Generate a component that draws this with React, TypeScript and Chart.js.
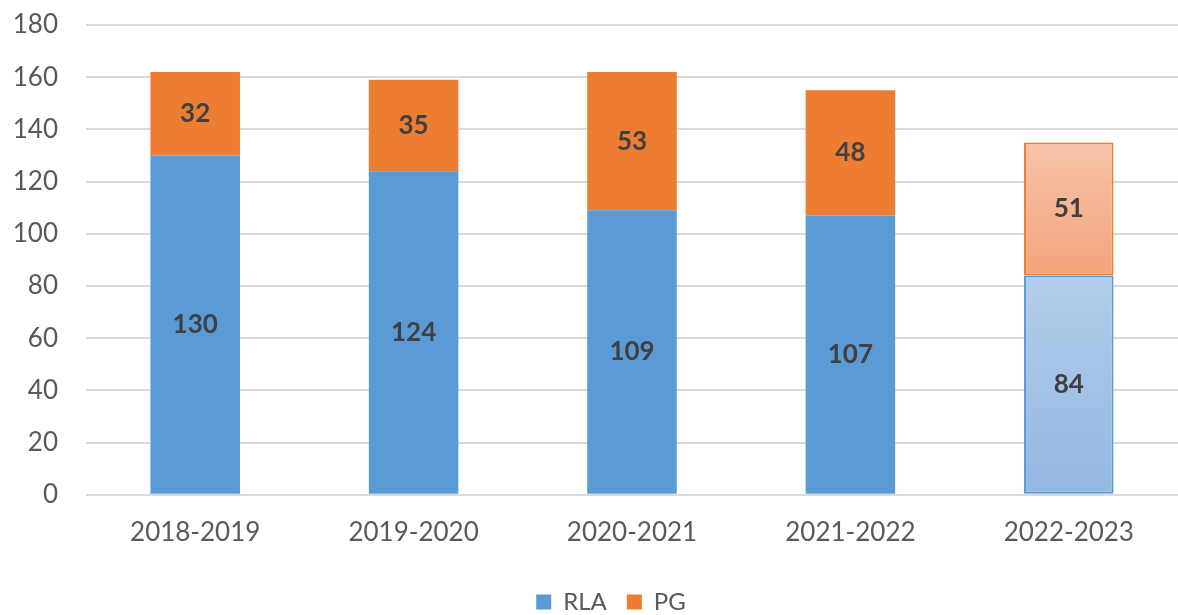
import React, { useEffect, useRef } from "react";
import { Chart, registerables } from "chart.js";

Chart.register(...registerables);

const categories = ["2018-2019", "2019-2020", "2020-2021", "2021-2022", "2022-2023"];
const rlaValues = [130, 124, 109, 107, 84];
const pgValues = [32, 35, 53, 48, 51];
const yTicks = [0, 20, 40, 60, 80, 100, 120, 140, 160, 180];

const FONT = "Lato";
const BLUE = "#5b9bd5";
const ORANGE = "#ed7d31";

const valueLabels = {
  id: "valueLabels",
  afterDatasetsDraw(chart: any) {
    const { ctx } = chart;
    ctx.save();
    ctx.font = `bold 26px ${FONT}`;
    ctx.fillStyle = "#404040";
    ctx.textAlign = "center";
    ctx.textBaseline = "middle";
    chart.data.datasets.forEach((ds: any, di: number) => {
      const meta = chart.getDatasetMeta(di);
      meta.data.forEach((bar: any, i: number) => {
        const midY = (bar.y + bar.base) / 2;
        ctx.fillText(String(ds.data[i]), bar.x, midY);
      });
    });
    ctx.restore();
  },
};

// Nudge the legend so it is centred like the original (slightly right of page centre).
const legendShift = {
  id: "legendShift",
  afterLayout(chart: any) {
    const lg = chart.legend;
    if (lg) {
      lg.left += 16;
      lg.right += 16;
    }
  },
};

function lightFill(kind: "rla" | "pg") {
  return (c: any) => {
    const chart = c.chart;
    const i = c.dataIndex;
    const base = kind === "rla" ? BLUE : ORANGE;
    if (i !== categories.length - 1) return base;
    const y = chart.scales?.y;
    if (!y) return base;
    const lo = kind === "rla" ? 0 : rlaValues[i];
    const hi = kind === "rla" ? rlaValues[i] : rlaValues[i] + pgValues[i];
    const top = y.getPixelForValue(hi);
    const bottom = y.getPixelForValue(lo);
    const g = chart.ctx.createLinearGradient(0, top, 0, bottom);
    if (kind === "rla") {
      g.addColorStop(0, "#b4cdea");
      g.addColorStop(1, "#93b7e2");
    } else {
      g.addColorStop(0, "#f7c4a9");
      g.addColorStop(1, "#f4a47c");
    }
    return g;
  };
}

export default function App() {
  const ref = useRef<HTMLCanvasElement | null>(null);

  useEffect(() => {
    document.body.style.margin = "0";
    const canvas = ref.current;
    if (!canvas) return;
    const lastIdx = categories.length - 1;
    const chart = new Chart(canvas, {
      type: "bar",
      data: {
        labels: categories,
        datasets: [
          {
            label: "RLA",
            data: rlaValues,
            backgroundColor: lightFill("rla"),
            borderColor: BLUE,
            borderWidth: categories.map((_, i) => (i === lastIdx ? 2 : 0)),
            borderSkipped: false,
            categoryPercentage: 1,
            barPercentage: 0.41,
          },
          {
            label: "PG",
            data: pgValues,
            backgroundColor: lightFill("pg"),
            borderColor: ORANGE,
            borderWidth: categories.map((_, i) => (i === lastIdx ? 2 : 0)),
            borderSkipped: false,
            categoryPercentage: 1,
            barPercentage: 0.41,
          },
        ],
      },
      options: {
        animation: false,
        responsive: false,
        maintainAspectRatio: false,
        layout: { padding: { top: 25, left: 12, right: 0, bottom: 0 } },
        plugins: {
          tooltip: { enabled: false },
          legend: {
            position: "bottom",
            labels: {
              boxWidth: 15,
              boxHeight: 15,
              padding: 20,
              color: "#595959",
              font: { family: FONT, size: 24 },
              generateLabels: (ch: any) =>
                ch.data.datasets.map((ds: any, i: number) => ({
                  text: ds.label,
                  fillStyle: i === 0 ? BLUE : ORANGE,
                  strokeStyle: i === 0 ? BLUE : ORANGE,
                  lineWidth: 0,
                  fontColor: "#595959",
                  datasetIndex: i,
                  hidden: false,
                })),
            },
          },
        },
        scales: {
          x: {
            stacked: true,
            grid: { display: false, drawTicks: false },
            border: { display: false },
            ticks: {
              padding: 22,
              color: "#595959",
              font: { family: FONT, size: 26 },
              maxRotation: 0,
            },
          },
          y: {
            stacked: true,
            min: 0,
            max: 180,
            afterBuildTicks: (scale: any) => {
              scale.ticks = yTicks.map((v) => ({ value: v }));
            },
            afterFit: (scale: any) => {
              scale.width = 74;
            },
            grid: {
              color: "#d9d9d9",
              lineWidth: 2,
              drawTicks: true,
              tickLength: 24,
              tickColor: "rgba(0,0,0,0)",
            },
            border: { display: false },
            ticks: {
              padding: 4,
              color: "#595959",
              font: { family: FONT, size: 26 },
            },
          },
        },
      },
      plugins: [valueLabels, legendShift],
    } as any);
    return () => chart.destroy();
  }, []);

  return (
    <div style={{ width: 1178, height: 615, overflow: "hidden", background: "#fff" }}>
      <canvas ref={ref} width={1178} height={624} style={{ display: "block" }} />
    </div>
  );
}
